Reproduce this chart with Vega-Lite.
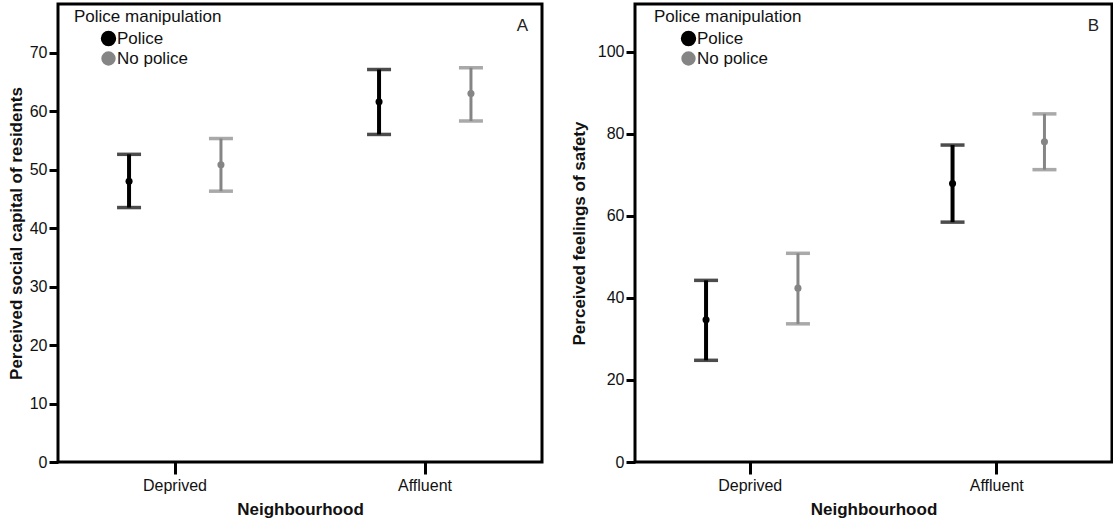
{
  "$schema": "https://vega.github.io/schema/vega-lite/v6.json",
  "background": "white",
  "padding": {"left": 5, "top": 2, "right": 0, "bottom": 0},
  "spacing": 8,
  "config": {
    "font": "Liberation Sans",
    "view": {"stroke": "black", "strokeWidth": 3},
    "axis": {"grid": false, "domain": false, "tickColor": "black", "tickWidth": 3, "labelColor": "#111111", "labelFontSize": 16, "titleFontSize": 17, "titleFontWeight": "bold", "titleColor": "#111111"},
    "axisX": {"tickSize": 12, "labelAngle": 0, "labelPadding": 3, "titlePadding": 8},
    "axisY": {"tickSize": 9, "labelPadding": 2, "titlePadding": 4},
    "legend": {"orient": "none", "legendY": 5, "titleFontSize": 17, "titleFontWeight": "normal", "titleColor": "#111111", "labelFontSize": 17, "labelColor": "#111111", "symbolSize": 130, "symbolType": "circle", "symbolOffset": 26, "labelOffset": 0, "rowPadding": 2, "clipHeight": 17, "titlePadding": 4, "symbolStrokeWidth": 0, "symbolOpacity": 1, "padding": 0}
  },
  "resolve": {"scale": {"color": "independent", "strokeWidth": "independent"}, "legend": {"color": "independent"}},
  "hconcat": [
    {
      "width": 484,
      "height": 458,
      "title": {"text": "A", "anchor": "end", "offset": -31, "dx": -30, "fontSize": 17, "fontWeight": "normal", "color": "#222222"},
      "data": {"values": [
        {"neighbourhood": "Deprived", "police": "Police", "mean": 48.0, "lo": 43.5, "hi": 52.6},
        {"neighbourhood": "Deprived", "police": "No police", "mean": 50.8, "lo": 46.3, "hi": 55.3},
        {"neighbourhood": "Affluent", "police": "Police", "mean": 61.6, "lo": 56.0, "hi": 67.1},
        {"neighbourhood": "Affluent", "police": "No police", "mean": 63.0, "lo": 58.3, "hi": 67.4}
      ]},
      "encoding": {
        "x": {"field": "neighbourhood", "type": "nominal", "sort": ["Deprived", "Affluent"], "scale": {"paddingInner": 0, "paddingOuter": 0, "range": [-8, 492]}, "axis": {"title": "Neighbourhood"}},
        "xOffset": {"field": "police", "type": "nominal", "sort": ["Police", "No police"], "scale": {"paddingInner": 0, "paddingOuter": 0.36}},
        "color": {"field": "police", "type": "nominal", "scale": {"domain": ["Police", "No police"], "range": ["#000000", "#858585"]}, "legend": {"title": "Police manipulation", "legendX": 16, "symbolType": "circle", "symbolSize": 130, "symbolOpacity": 1}}
      },
      "layer": [
        {
          "mark": {"type": "rule"},
          "encoding": {
            "y": {"field": "lo", "type": "quantitative", "title": "Perceived social capital of residents", "scale": {"domain": [0, 78.3], "nice": false}, "axis": {"values": [0, 10, 20, 30, 40, 50, 60, 70]}},
            "y2": {"field": "hi"},
            "strokeWidth": {"field": "police", "type": "nominal", "scale": {"domain": ["Police", "No police"], "range": [4, 3]}, "legend": null}
          }
        },
        {
          "mark": {"type": "tick", "size": 24, "thickness": 3.5},
          "encoding": {
            "y": {"field": "lo", "type": "quantitative", "title": "Perceived social capital of residents"}
          }
        },
        {
          "mark": {"type": "tick", "size": 24, "thickness": 3.5},
          "encoding": {
            "y": {"field": "hi", "type": "quantitative", "title": "Perceived social capital of residents"}
          }
        },
        {
          "mark": {"type": "point", "filled": true, "size": 50, "opacity": 1},
          "encoding": {
            "y": {"field": "mean", "type": "quantitative", "title": "Perceived social capital of residents"}
          }
        }
      ]
    },
    {
      "width": 477,
      "height": 458,
      "title": {"text": "B", "anchor": "end", "offset": -31, "dx": -29, "fontSize": 17, "fontWeight": "normal", "color": "#222222"},
      "data": {"values": [
        {"neighbourhood": "Deprived", "police": "Police", "mean": 34.7, "lo": 24.8, "hi": 44.3},
        {"neighbourhood": "Deprived", "police": "No police", "mean": 42.4, "lo": 33.7, "hi": 50.9},
        {"neighbourhood": "Affluent", "police": "Police", "mean": 67.9, "lo": 58.5, "hi": 77.3},
        {"neighbourhood": "Affluent", "police": "No police", "mean": 78.1, "lo": 71.3, "hi": 84.9}
      ]},
      "encoding": {
        "x": {"field": "neighbourhood", "type": "nominal", "sort": ["Deprived", "Affluent"], "scale": {"paddingInner": 0, "paddingOuter": 0, "range": [-8, 485]}, "axis": {"title": "Neighbourhood"}},
        "xOffset": {"field": "police", "type": "nominal", "sort": ["Police", "No police"], "scale": {"paddingInner": 0, "paddingOuter": 0.36}},
        "color": {"field": "police", "type": "nominal", "scale": {"domain": ["Police", "No police"], "range": ["#000000", "#858585"]}, "legend": {"title": "Police manipulation", "legendX": 19, "symbolType": "circle", "symbolSize": 130, "symbolOpacity": 1}}
      },
      "layer": [
        {
          "mark": {"type": "rule"},
          "encoding": {
            "y": {"field": "lo", "type": "quantitative", "title": "Perceived feelings of safety", "scale": {"domain": [0, 111.7], "nice": false}, "axis": {"values": [0, 20, 40, 60, 80, 100], "titlePadding": 9}},
            "y2": {"field": "hi"},
            "strokeWidth": {"field": "police", "type": "nominal", "scale": {"domain": ["Police", "No police"], "range": [4, 3]}, "legend": null}
          }
        },
        {
          "mark": {"type": "tick", "size": 24, "thickness": 3.5},
          "encoding": {
            "y": {"field": "lo", "type": "quantitative", "title": "Perceived feelings of safety"}
          }
        },
        {
          "mark": {"type": "tick", "size": 24, "thickness": 3.5},
          "encoding": {
            "y": {"field": "hi", "type": "quantitative", "title": "Perceived feelings of safety"}
          }
        },
        {
          "mark": {"type": "point", "filled": true, "size": 50, "opacity": 1},
          "encoding": {
            "y": {"field": "mean", "type": "quantitative", "title": "Perceived feelings of safety"}
          }
        }
      ]
    }
  ]
}
